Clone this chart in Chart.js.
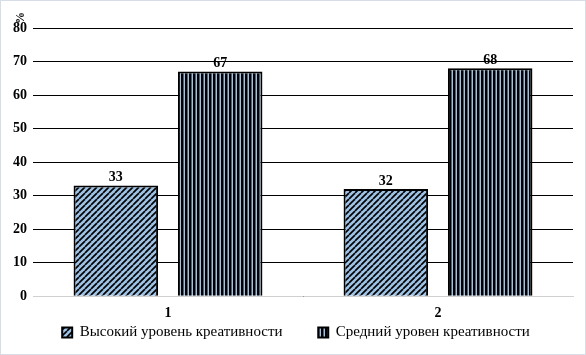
<!DOCTYPE html>
<html>
<head>
<meta charset="utf-8">
<script src="https://cdn.jsdelivr.net/npm/chart.js@4.4.1/dist/chart.umd.min.js"></script>
<style>
  html, body { margin:0; padding:0; background:#fff; }
  #wrap { width:584px; height:353px; border:1px solid #d6dde6; }
</style>
</head>
<body>
<div id="wrap"><canvas id="grafico" width="584" height="353"></canvas></div>
<script>
// DADOS
const categorias = ["1", "2"];
const serieAlto = [33, 32];
const serieMedio = [67, 68];
const nomesSeries = ["Высокий уровень креативности", "Средний уровен креативности"];
const yTicks = [0, 10, 20, 30, 40, 50, 60, 70, 80];

const azul = "#9dc3e6";
const fonte = "'Liberation Serif', 'Times New Roman', 'DejaVu Serif', serif";

// PADRÕES
function padraoDiagonal(){
  const c = document.createElement("canvas");
  c.width = 6; c.height = 6;
  const ctx = c.getContext("2d");
  ctx.fillStyle = azul;
  ctx.fillRect(0,0,6,6);
  ctx.strokeStyle = "#000";
  ctx.lineWidth = 1.7;
  [-6,0,6].forEach(x0=>{
    ctx.beginPath();
    ctx.moveTo(x0,6);
    ctx.lineTo(x0+6,0);
    ctx.stroke();
  });
  return ctx.createPattern(c,"repeat");
}

function padraoVertical(){
  const c = document.createElement("canvas");
  c.width = 4; c.height = 4;
  const ctx = c.getContext("2d");
  ctx.fillStyle = azul;
  ctx.fillRect(0,0,4,4);
  ctx.fillStyle = "#000";
  ctx.fillRect(0,0,2.5,4);
  return ctx.createPattern(c,"repeat");
}

// RÓTULOS
const rotulos = {
  id:"rotulos",
  afterDatasetsDraw(chart){
    const ctx = chart.ctx;
    ctx.save();
    ctx.font = "bold 14px " + fonte;
    ctx.fillStyle = "#000";
    ctx.textAlign = "center";
    ctx.textBaseline = "bottom";
    chart.data.datasets.forEach((ds,i)=>{
      chart.getDatasetMeta(i).data.forEach((bar,j)=>{
        ctx.fillText(ds.data[j], bar.x, bar.y - 1);
      });
    });
    // "%"
    const a = chart.chartArea;
    ctx.translate(a.left - 12, a.top - 10);
    ctx.rotate(-Math.PI/2);
    ctx.font = "bold 12px " + fonte;
    ctx.textBaseline = "middle";
    ctx.fillText("%", 0, 0);
    ctx.restore();
  }
};

function desenhar(){
  new Chart(document.getElementById("grafico"),{
    type:"bar",
    data:{
      labels:categorias,
      datasets:[
        {
          label:nomesSeries[0],
          data:serieAlto,
          backgroundColor:padraoDiagonal(),
          borderColor:"#000",
          borderWidth:2
        },
        {
          label:nomesSeries[1],
          data:serieMedio,
          backgroundColor:padraoVertical(),
          borderColor:"#000",
          borderWidth:2
        }
      ]
    },
    options:{
      responsive:false,
      animation:false,
      layout:{ padding:{ top:27, right:0, left:6, bottom:4 } },
      datasets:{ bar:{ categoryPercentage:0.773, barPercentage:0.81 } },
      plugins:{
        legend:{
          position:"bottom",
          labels:{
            boxWidth:10,
            boxHeight:10,
            padding:2,
            color:"#000",
            font:{ family:fonte, size:15 },
            generateLabels(chart){
              const itens = Chart.defaults.plugins.legend.labels.generateLabels(chart);
              // espaço entre os itens da legenda
              itens[0].text = itens[0].text + "\u00a0".repeat(9);
              return itens;
            }
          }
        },
        tooltip:{ enabled:false }
      },
      scales:{
        x:{
          afterFit(scale){ scale.height -= 8; },
          grid:{ display:false, drawTicks:false },
          border:{ color:"#d0d0d0", width:1 },
          ticks:{ color:"#000", padding:9, font:{ family:fonte, size:14, weight:"bold" } }
        },
        y:{
          min:0, max:80,
          afterBuildTicks(scale){ scale.ticks = yTicks.map(v=>({value:v})); },
          grid:{ color:"#000", lineWidth:1, drawTicks:false },
          border:{ display:false },
          ticks:{ color:"#000", padding:6, font:{ family:fonte, size:14, weight:"bold" } }
        },
        // margem à direita (vazia)
        margem:{
          position:"right",
          grid:{ display:false, drawTicks:false },
          border:{ display:false },
          ticks:{ display:false },
          afterFit(scale){ scale.width = 12; }
        }
      }
    },
    plugins:[rotulos]
  });
}

Promise.all([
  document.fonts.load("14px 'Liberation Serif'"),
  document.fonts.load("bold 14px 'Liberation Serif'")
]).then(desenhar, desenhar);
</script>
</body>
</html>
